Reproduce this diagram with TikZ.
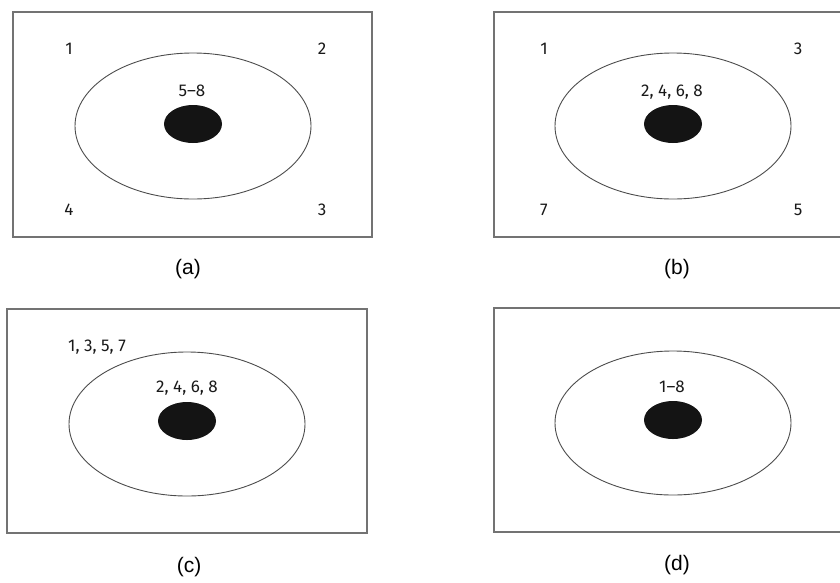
\documentclass[tikz,border=0pt]{standalone}
\usepackage{fontspec}
\setmainfont{Liberation Sans}
\newfontfamily\numfont{Fira Sans}
\usetikzlibrary{positioning}

\begin{document}
\begin{tikzpicture}[x=1pt, y=-1pt,
    frame/.style={draw=black!55, line width=1.4pt},
    ring/.style={draw=black!70, line width=0.9pt},
    core/.style={fill=black!92},
    lab/.style={inner sep=0pt, font=\numfont\fontsize{17}{19}\selectfont, text=black!90},
    sublabel/.style={inner sep=0pt, font=\fontsize{21}{24}\selectfont}]
    \useasboundingbox (0,0) rectangle (840,582);
    \clip (0,0) rectangle (840,582);
    % panel (a)
    \draw[frame] (13,12) rectangle (372,237);
    \draw[ring] (193,126) ellipse [x radius=118, y radius=73];
    \fill[core] (193,124) ellipse [x radius=29, y radius=19];
    \node[lab] (a1) at (69,49) {1};
    \node[lab] (a2) at (322,49) {2};
    \node[lab] (a4) at (69,210) {4};
    \node[lab] (a3) at (322,210) {3};
    \node[lab] (a58) at (192,91) {5\textendash 8};
    \node[sublabel] (capa) at (188,269) {(a)};
    % panel (b)
    \draw[frame] (494,12) rectangle (852,237);
    \draw[ring] (673,126) ellipse [x radius=118, y radius=73];
    \fill[core] (673,124) ellipse [x radius=29, y radius=19];
    \node[lab] (b1) at (544,49) {1};
    \node[lab] (b3) at (798,49) {3};
    \node[lab] (b7) at (544,210) {7};
    \node[lab] (b5) at (798,210) {5};
    \node[lab] (beven) at (672,92) {2, 4, 6, 8};
    \node[sublabel] (capb) at (677,269) {(b)};
    % panel (c)
    \draw[frame] (7,309) rectangle (367,533);
    \draw[ring] (187,424) ellipse [x radius=118, y radius=72];
    \fill[core] (187,421) ellipse [x radius=29, y radius=19];
    \node[lab] (codd) at (97,347) {1, 3, 5, 7};
    \node[lab] (ceven) at (187,388) {2, 4, 6, 8};
    \node[sublabel] (capc) at (189,567) {(c)};
    % panel (d)
    \draw[frame] (494,308) rectangle (852,532);
    \draw[ring] (673,423) ellipse [x radius=118, y radius=72];
    \fill[core] (673,420) ellipse [x radius=29, y radius=19];
    \node[lab] (d18) at (672,387) {1\textendash 8};
    \node[sublabel] (capd) at (677,565) {(d)};
\end{tikzpicture}
\end{document}
